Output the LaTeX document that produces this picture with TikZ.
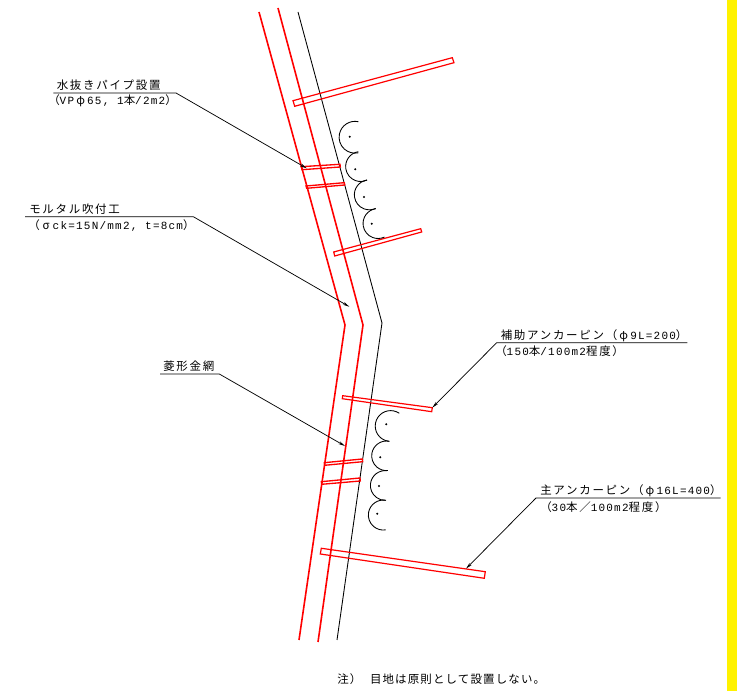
\documentclass[tikz,border=0pt]{standalone}
\usepackage{fontspec}
\usetikzlibrary{arrows.meta}
\newfontfamily\zenkaku[LetterSpace=15]{Noto Sans CJK JP}
\newfontfamily\zenkakunote[LetterSpace=10]{Noto Sans CJK JP}
\newfontfamily\hankaku[LetterSpace=11]{Liberation Mono}
\newcommand{\han}[1]{{\fontsize{8.25}{10}\selectfont\hankaku #1}}
\newcommand{\greek}[1]{\makebox[9.75pt][c]{#1}}

\begin{document}
\begin{tikzpicture}[x=0.75pt,y=0.75pt,
    wall/.style={red, line width=1.2pt},
    rod/.style={red, line width=0.9pt},
    pipe/.style={red, line width=1pt},
    face/.style={black, line width=0.65pt},
    scallop/.style={black, line width=0.65pt},
    leader/.style={black, line width=0.55pt, -{Stealth[length=5pt,width=2.2pt]}},
    note/.style={anchor=base west, inner sep=0pt, text=black, font=\fontsize{8.6}{10}\selectfont\zenkaku},
    seed/.style={circle, fill=black, inner sep=0pt, minimum size=1.7pt},
]
\useasboundingbox (0,0) rectangle (740,691);

\fill[yellow] (727.3,0) rectangle (737.3,691);

% slope
\draw[wall] (259,679)--(345,366)--(299,51);
\draw[wall] (278,683)--(363,366)--(318,49);
\draw[face] (298,679)--(382,368)--(337,51);

% anchors and drain pipes, upper
\draw[rod] (293,590.3)--(452.3,633.3)--(454,628.3)--(294.7,584.7)--cycle;
\draw[pipe] (301.3,524.3)--(340,526.7)--(340.3,524)--(302,521.3)--cycle;
\draw[pipe] (306,505)--(344.3,508.3)--(344.7,506)--(306.7,502.7)--cycle;
\draw[rod] (333.7,439)--(420.7,462.3)--(421.7,459)--(334.7,435)--cycle;

% anchors and drain pipes, lower
\draw[rod] (342.7,295.3)--(432.3,283.3)--(431.7,279.3)--(342.3,292.3)--cycle;
\draw[pipe] (324.3,228.3)--(362.3,232)--(362.7,229.3)--(324.7,225.7)--cycle;
\draw[pipe] (321.3,209.3)--(360,213)--(360.3,210)--(321.7,206.7)--cycle;
\draw[rod] (321.3,142.7)--(485.3,119.3)--(484.3,112.7)--(320.3,137)--cycle;

% seed marks, upper
\draw[scallop] (358.3,569.3) arc[start angle=78, end angle=282, radius=15.9];
\draw[scallop] (358.3,539.3) arc[start angle=99, end angle=295, radius=15];
\draw[scallop] (367,511) arc[start angle=99, end angle=295, radius=15];
\draw[scallop] (375.7,482.3) arc[start angle=99, end angle=295, radius=15];
\node[seed] (u1) at (349.7,554.3){};
\node[seed] (u2) at (355.3,521.7){};
\node[seed] (u3) at (364,494){};
\node[seed] (u4) at (371.7,467.3){};

% seed marks, lower
\draw[scallop] (399.3,277.7) arc[start angle=55.7, end angle=265, radius=15.4];
\draw[scallop] (389.3,249.7) arc[start angle=79, end angle=275.8, radius=14.8];
\draw[scallop] (387,220.3) arc[start angle=83.4, end angle=271.4, radius=14.9];
\draw[scallop] (386,190.7) arc[start angle=79.8, end angle=279, radius=15];
\node[seed] (l1) at (386.3,266.7){};
\node[seed] (l2) at (380.3,233.7){};
\node[seed] (l3) at (379,205){};
\node[seed] (l4) at (377.3,177.3){};

% labels
\node[note] (drain) at (56.5,601.5){水抜きパイプ設置};
\node[note] (drainB) at (48,586){（\han{VP}\greek{φ}\han{65, 1}本\han{/2m2}）};
\node[note] (mortar) at (29,477){モルタル吹付工};
\node[note] (mortarB) at (28,461.5){（\greek{σ}\han{ck=15N/mm2, t=8cm}）};
\node[note] (mesh) at (163,320){菱形金網};
\node[note] (subpin) at (500.5,351.5){補助アンカーピン（\greek{φ}\han{9L=200}）};
\node[note] (subpinB) at (495,335){（\han{150}本\han{/100m2}程度）};
\node[note] (mainpin) at (540,196){主アンカーピン（\greek{φ}\han{16L=400}）};
\node[note] (mainpinB) at (540,179.5){（\han{30}本／\han{100m2}程度）};
\node[note, font=\fontsize{8.6}{10}\selectfont\zenkakunote] (remark) at (337,7){注）\hspace{6.5pt}目地は原則として設置しない。};

% leaders
\coordinate (drainA) at (53.3,598);
\coordinate (drainK) at (176,598);
\coordinate (drainT) at (306.7,522.7);
\coordinate (mortarA) at (25,474.3);
\coordinate (mortarK) at (193.3,474.3);
\coordinate (mortarT) at (349.3,384.3);
\coordinate (meshA) at (160,317);
\coordinate (meshK) at (219.3,317);
\coordinate (meshT) at (345,245);
\coordinate (subpinA) at (687.3,348.3);
\coordinate (subpinK) at (496.7,348.3);
\coordinate (subpinT) at (432.3,283.3);
\coordinate (mainpinA) at (720.7,193);
\coordinate (mainpinK) at (536,193);
\coordinate (mainpinT) at (466,122.3);
\draw[leader] (drainA)--(drainK)--(drainT);
\draw[leader] (mortarA)--(mortarK)--(mortarT);
\draw[leader] (meshA)--(meshK)--(meshT);
\draw[leader] (subpinA)--(subpinK)--(subpinT);
\draw[leader] (mainpinA)--(mainpinK)--(mainpinT);

\end{tikzpicture}
\end{document}
